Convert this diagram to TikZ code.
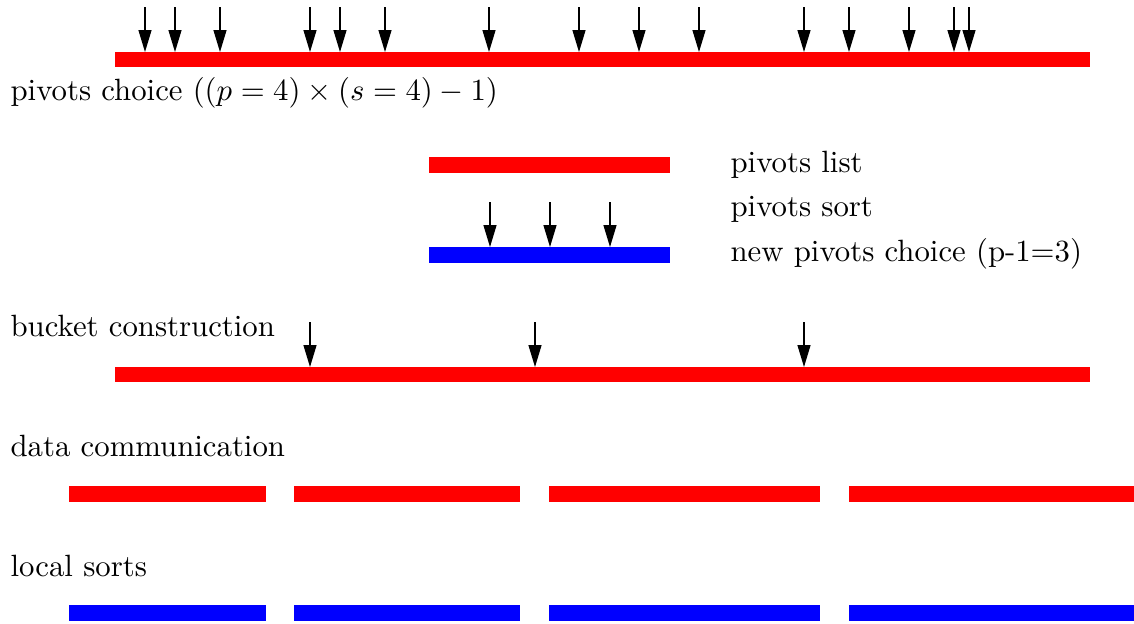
\documentclass[tikz,border=0pt]{standalone}
\usepackage{tikz}
\usetikzlibrary{arrows.meta}

\begin{document}
\begin{tikzpicture}[x=0.325pt,y=-0.325pt,
    bar/.style={line width=4.9pt},
    pivarrow/.style={-{Triangle[length=7.1pt,width=4.2pt]},line width=0.4pt},
    lbl/.style={anchor=base west,inner sep=0pt}]
    \useasboundingbox (0,0) rectangle (1134,623);

    % Pivots choice on the whole array
    \draw[bar,red] (115,59.5) -- (1090,59.5);
    \foreach \x in {145,175,220,310,340,385,489,579,639,699,804,849,909,954,969}
        \draw[pivarrow] (\x,7) -- (\x,52);
    \node[lbl] (choice) at (10,100) {pivots choice $((p=4)\times(s=4)-1)$};

    % Pivots list, sort and new choice
    \draw[bar,red] (429,165) -- (670,165);
    \node[lbl] (plist) at (730,172) {pivots list};
    \foreach \x in {490,550,610}
        \draw[pivarrow] (\x,202) -- (\x,247);
    \node[lbl] (psort) at (730,216) {pivots sort};
    \draw[bar,blue] (429,255) -- (670,255);
    \node[lbl] (pnew) at (730,261) {new pivots choice (p-1=3)};

    % Bucket construction
    \node[lbl] (bucket) at (10,336) {bucket construction};
    \draw[bar,red] (115,374.5) -- (1090,374.5);
    \foreach \x in {310,535,804}
        \draw[pivarrow] (\x,322) -- (\x,367);

    % Data communication
    \node[lbl] (comm) at (10,456) {data communication};
    \foreach \a/\b in {69/266,294/520,549/820,849/1134}
        \draw[bar,red] (\a,494) -- (\b,494);

    % Local sorts
    \node[lbl] (sorts) at (10,576) {local sorts};
    \foreach \a/\b in {69/266,294/520,549/820,849/1134}
        \draw[bar,blue] (\a,613) -- (\b,613);
\end{tikzpicture}
\end{document}
